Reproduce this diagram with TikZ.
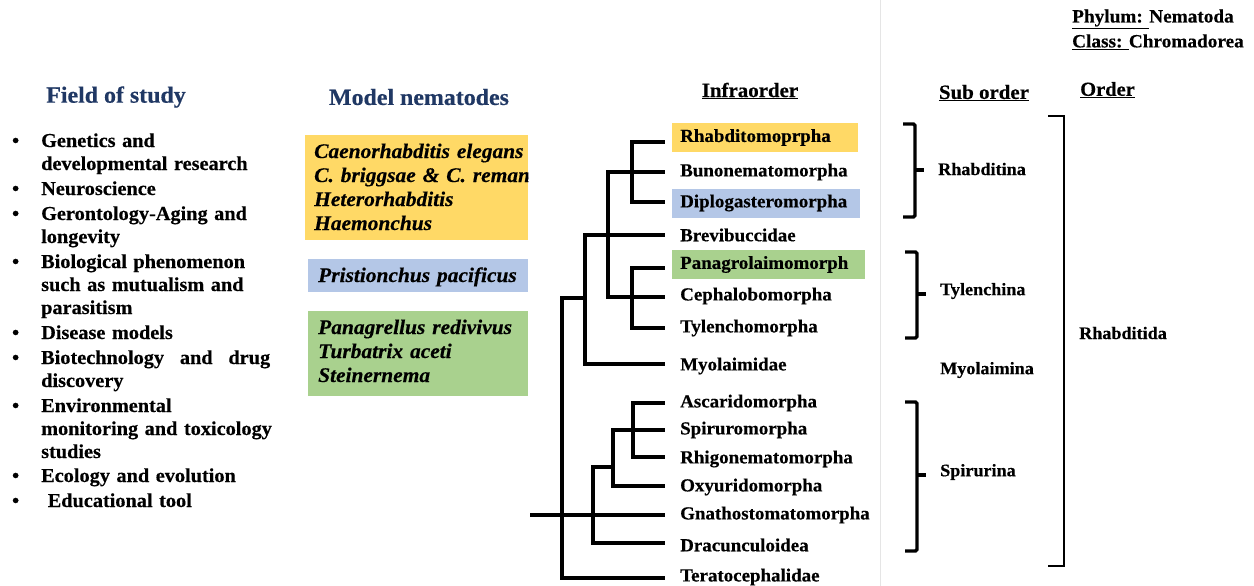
\documentclass[tikz,border=0pt]{standalone}
\usepackage{fontspec}
\setmainfont[FakeStretch=1.03, BoldFeatures={FakeBold=0.4}, BoldItalicFeatures={FakeBold=0.4}]{Liberation Serif}
\definecolor{hdblue}{RGB}{32,56,100}
\definecolor{ylw}{RGB}{255,217,102}
\definecolor{blu}{RGB}{180,199,231}
\definecolor{grn}{RGB}{169,209,142}
\newcommand\myfs[2]{\fontsize{#1}{#2}\selectfont}
\begin{document}
\begin{tikzpicture}[x=1pt,y=-1pt,
  hdr/.style={font=\myfs{23.2}{26}\bfseries, text=hdblue, inner sep=0pt},
  item/.style={anchor=base west, inner sep=0pt, text width=250pt, align=left, font=\myfs{19.7}{23}\bfseries},
  model/.style={anchor=base west, inner sep=0pt, text width=215pt, align=left, font=\myfs{20.8}{24}\bfseries\itshape},
  leaf/.style={anchor=west, inner xsep=8pt, inner ysep=0pt, minimum height=29pt, font=\myfs{18.4}{20}\bfseries},
  br/.style={line width=3.2pt, line cap=rect},
  ll/.style={line width=3.2pt, shorten >=7pt},
  sub/.style={anchor=west, inner sep=0pt, font=\myfs{17.6}{20}\bfseries},
  brace/.style={line width=3.2pt, rounded corners=1.5pt},
  ttl/.style={inner sep=0pt, font=\myfs{20.3}{24}\bfseries}
]
\useasboundingbox[fill=white] (0,0) rectangle (1254,586);
\draw[black!10, line width=0.8pt] (880,0) -- (880,586);

% ---------- Field of study ----------
\node[hdr] (fos) at (116,97) {Field of study};
\newcommand\bul{\leavevmode\llap{\textbullet\hspace{22pt}}}
\node[item] (i1) at (41,147) {\bul Genetics and\\developmental research};
\node[item] (i2) at (41,195) {\bul Neuroscience};
\node[item] (i3) at (41,220) {\bul Gerontology-Aging and\\longevity};
\node[item] (i4) at (41,268) {\bul Biological phenomenon\\such as mutualism and\\parasitism};
\node[item] (i5) at (41,339) {\bul Disease models};
\node[item] (i6) at (41,364) {\bul\hbox to 229pt{Biotechnology\hfill and\hfill drug}\\discovery};
\node[item] (i7) at (41,412) {\bul Environmental\\monitoring and toxicology\\studies};
\node[item] (i8) at (41,482) {\bul Ecology and evolution};
\node[item] (i9) at (41,507) {\bul\ Educational tool};

% ---------- Model nematodes ----------
\node[hdr] (mn) at (419,97) {Model nematodes};
\node[fill=ylw, anchor=north west, minimum width=223pt, minimum height=105pt, inner sep=0pt] (yb) at (305,135) {};
\begin{scope}
\clip (yb.north west) rectangle (yb.south east);
\node[model, text width=260pt] (yt) at (314,158) {Caenorhabditis elegans\\C. briggsae \& C. remanei\\Heterorhabditis\\Haemonchus};
\end{scope}
\node[fill=blu, anchor=north west, minimum width=220pt, minimum height=33pt, inner sep=0pt] (bb) at (308,259) {};
\node[model] (bt) at (318,282) {Pristionchus pacificus};
\node[fill=grn, anchor=north west, minimum width=220pt, minimum height=85pt, inner sep=0pt] (gb) at (308,311) {};
\node[model] (gt) at (318,334) {Panagrellus redivivus\\Turbatrix aceti\\Steinernema};

% ---------- Infraorder tree ----------
\node[ttl] (io) at (750,91) {\underline{Infraorder}};
\node[leaf, fill=ylw, text width=170pt] (L1) at (672,137.5) {Rhabditomoprpha};
\node[leaf] (L2) at (672,172) {Bunonematomorpha};
\node[leaf, fill=blu, text width=172pt] (L3) at (672,203) {Diplogasteromorpha};
\node[leaf] (L4) at (672,235) {Brevibuccidae};
\node[leaf, fill=grn, text width=177pt] (L5) at (672,264.5) {Panagrolaimomorph};
\node[leaf] (L6) at (672,296) {Cephalobomorpha};
\node[leaf] (L7) at (672,328) {Tylenchomorpha};
\node[leaf] (L8) at (672,366) {Myolaimidae};
\node[leaf] (L9) at (672,403) {Ascaridomorpha};
\node[leaf] (L10) at (672,430) {Spiruromorpha};
\node[leaf] (L11) at (672,459) {Rhigonematomorpha};
\node[leaf] (L12) at (672,487) {Oxyuridomorpha};
\node[leaf] (L13) at (672,515) {Gnathostomatomorpha};
\node[leaf] (L14) at (672,545) {Dracunculoidea};
\node[leaf] (L15) at (672,577) {Teratocephalidae};

\coordinate (a1) at (632,142);
\coordinate (b1) at (608,172);
\coordinate (a3) at (632,202);
\coordinate (c1) at (585,235);
\coordinate (a5) at (632,268);
\coordinate (b6) at (608,297);
\coordinate (a7) at (632,328);
\coordinate (c8) at (585,364);
\coordinate (g9) at (633,403);
\coordinate (f10) at (613,430);
\coordinate (g11) at (633,457);
\coordinate (f12) at (613,486);
\coordinate (root) at (530,515);
\coordinate (e14) at (593,543);
\coordinate (d15) at (562,578);
\coordinate (d0) at (562,298);
\coordinate (e0) at (593,467);

\draw[br] (a1) -- (a3);
\draw[br] (a5) -- (a7);
\draw[br] (b1) -- (b6);
\draw[br] (c1) -- (c8);
\draw[br] (d0 -| c1) -- (d0) -- (d15);
\draw[br] (g9) -- (g11);
\draw[br] (f10) -- (f12);
\draw[br] (e0 -| f10) -- (e0) -- (e14);
\foreach \c/\l in {a1/L1,b1/L2,a3/L3,c1/L4,a5/L5,b6/L6,a7/L7,c8/L8,g9/L9,f10/L10,g11/L11,f12/L12,root/L13,e14/L14,d15/L15}
  \draw[ll] (\c) -- (\c -| \l.west);

% ---------- Sub order / Order ----------
\node[ttl, anchor=west, font=\myfs{18.7}{21}\bfseries] (ph) at (1072,19) {\underline{Phylum: }Nematoda};
\node[ttl, anchor=west, font=\myfs{18.7}{21}\bfseries] (cl) at (1072,42) {\underline{Class: }Chromadorea};
\node[ttl] (so) at (984,93) {\underline{Sub order}};
\node[ttl, anchor=west, font=\myfs{19.9}{24}\bfseries] (or) at (1080,90) {\underline{Order}};

\node[sub] (s1) at (938,169) {Rhabditina};
\node[sub] (s2) at (940,291) {Tylenchina};
\node[sub] (s3) at (940,370) {Myolaimina};
\node[sub] (s4) at (940,472) {Spirurina};
\node[sub] (o1) at (1079,333) {Rhabditida};

\draw[brace] (903,124) -- (915,124) -- (915,217) -- (903,217);
\draw[line width=3.2pt] (915,170) -- (924,170);
\draw[brace] (905,252) -- (917,252) -- (917,338) -- (905,338);
\draw[line width=3.2pt] (917,294) -- (926,294);
\draw[brace] (905,402) -- (917,402) -- (917,551) -- (905,551);
\draw[line width=3.2pt] (917,475) -- (926,475);
\draw[line width=1.4pt] (1048,116) -- (1064,116) -- (1064,566) -- (1048,566);
\end{tikzpicture}
\end{document}
